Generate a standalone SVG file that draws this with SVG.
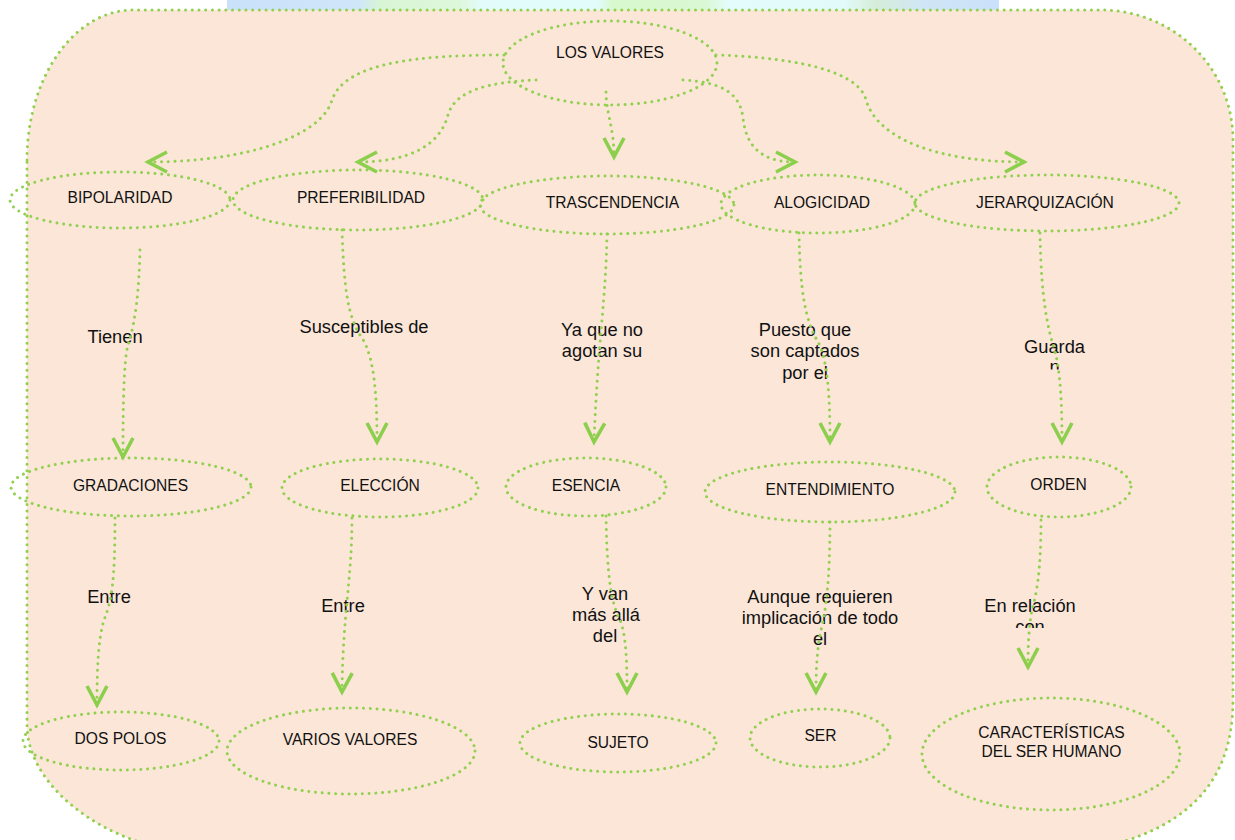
<svg xmlns="http://www.w3.org/2000/svg" width="1235" height="840" viewBox="0 0 1235 840">
<defs>
<linearGradient id="strip" x1="227" y1="0" x2="999" y2="0" gradientUnits="userSpaceOnUse">
<stop offset="0" stop-color="#C9E1FA"/>
<stop offset="0.17" stop-color="#CFE6FA"/>
<stop offset="0.2" stop-color="#D8F5D4"/>
<stop offset="0.3" stop-color="#DDF7DA"/>
<stop offset="0.33" stop-color="#E3FBFB"/>
<stop offset="0.48" stop-color="#E2FCFC"/>
<stop offset="0.5" stop-color="#D8F8CE"/>
<stop offset="0.62" stop-color="#DAF8D3"/>
<stop offset="0.65" stop-color="#E4FCFC"/>
<stop offset="0.8" stop-color="#E2FAFA"/>
<stop offset="0.84" stop-color="#D5EDD8"/>
<stop offset="0.9" stop-color="#D0E6F5"/>
<stop offset="1" stop-color="#C9E1FA"/>
</linearGradient>
<marker id="ah" markerUnits="userSpaceOnUse" markerWidth="40" markerHeight="40" viewBox="-30 -20 40 40" refX="0" refY="0" orient="auto" overflow="visible">
<polyline points="-19,-10 0,0 -19,10" fill="none" stroke="#8CCF4C" stroke-width="3.6" stroke-linejoin="miter"/>
</marker>
<clipPath id="clipGuarda"><rect x="990" y="320" width="130" height="49.5"/></clipPath>
<clipPath id="clipRel"><rect x="960" y="580" width="140" height="48"/></clipPath>
</defs>
<style>
.dot{fill:none;stroke:#92D050;stroke-width:3;stroke-dasharray:0.01 6.7;stroke-linecap:round}
.bg{fill:#FBE6D8}
.conn{marker-end:url(#ah)}
text{font-family:"Liberation Sans",Arial,sans-serif;fill:#111;text-anchor:middle}
.n{font-size:15.6px}
.l{font-size:18.3px}
</style>

<rect x="227" y="0" width="772" height="12" fill="url(#strip)"/>
<path id="background" class="bg dot" d="M 27 160 A 106 150 0 0 1 133 10 L 1100 10 A 132 130 0 0 1 1233 140 L 1233 700 C 1233 780 1190 830 1090 850 L 170 850 C 90 835 27 780 27 725 Z"/>

<g id="n-valores"><ellipse class="dot" cx="610" cy="63" rx="107" ry="42"/><text class="n" x="610" y="57.5">LOS VALORES</text></g>
<g id="n-bipolaridad"><ellipse class="dot" cx="120" cy="200" rx="110" ry="28"/><text class="n" x="120" y="202.5">BIPOLARIDAD</text></g>
<g id="n-preferibilidad"><ellipse class="dot" cx="358" cy="200" rx="125" ry="30"/><text class="n" x="361" y="202.5">PREFERIBILIDAD</text></g>
<g id="n-trascendencia"><ellipse class="dot" cx="607" cy="205" rx="127" ry="29"/><text class="n" x="612.5" y="207.5">TRASCENDENCIA</text></g>
<g id="n-alogicidad"><ellipse class="dot" cx="818" cy="204" rx="97" ry="29"/><text class="n" x="822" y="207.5">ALOGICIDAD</text></g>
<g id="n-jerarquizacion"><ellipse class="dot" cx="1047" cy="203" rx="132" ry="28"/><text class="n" x="1045" y="207.5">JERARQUIZACIÓN</text></g>

<g id="n-gradaciones"><ellipse class="dot" cx="131" cy="487" rx="120" ry="29"/><text class="n" x="130.5" y="490.5">GRADACIONES</text></g>
<g id="n-eleccion"><ellipse class="dot" cx="380" cy="488" rx="98" ry="29"/><text class="n" x="380" y="490.5">ELECCIÓN</text></g>
<g id="n-esencia"><ellipse class="dot" cx="586" cy="487" rx="80" ry="29"/><text class="n" x="586" y="490.5">ESENCIA</text></g>
<g id="n-entendimiento"><ellipse class="dot" cx="830" cy="492" rx="125" ry="30"/><text class="n" x="830" y="494.5">ENTENDIMIENTO</text></g>
<g id="n-orden"><ellipse class="dot" cx="1059" cy="487" rx="72" ry="30"/><text class="n" x="1058.5" y="489.5">ORDEN</text></g>

<g id="n-dospolos"><ellipse class="dot" cx="121" cy="741" rx="98" ry="29"/><text class="n" x="120.5" y="743.5">DOS POLOS</text></g>
<g id="n-varios"><ellipse class="dot" cx="351" cy="751" rx="124" ry="43"/><text class="n" x="350" y="744.5">VARIOS VALORES</text></g>
<g id="n-sujeto"><ellipse class="dot" cx="618" cy="743" rx="98" ry="29"/><text class="n" x="618" y="747.5">SUJETO</text></g>
<g id="n-ser"><ellipse class="dot" cx="820" cy="738" rx="70" ry="29"/><text class="n" x="820.5" y="740.5">SER</text></g>
<g id="n-caracteristicas"><ellipse class="dot" cx="1051" cy="754" rx="129" ry="56"/><text class="n" x="1051.5" y="737.5">CARACTERÍSTICAS</text><text class="n" x="1051.5" y="756.5">DEL SER HUMANO</text></g>

<g id="labels">
<text class="l" x="115" y="342.5">Tienen</text>
<text class="l" x="364" y="332.5">Susceptibles de</text>
<text class="l" x="602" y="335.5">Ya que no</text>
<text class="l" x="602" y="357">agotan su</text>
<text class="l" x="805" y="335.5">Puesto que</text>
<text class="l" x="805" y="357">son captados</text>
<text class="l" x="805" y="378.5">por el</text>
<g clip-path="url(#clipGuarda)"><text class="l" x="1054.5" y="352.5">Guarda</text><text class="l" x="1054.5" y="373">n</text></g>
<text class="l" x="109" y="602.5">Entre</text>
<text class="l" x="343" y="611.5">Entre</text>
<text class="l" x="605" y="599.5">Y van</text>
<text class="l" x="606" y="620.5">más allá</text>
<text class="l" x="605" y="641.5">del</text>
<text class="l" x="820" y="602.5">Aunque requieren</text>
<text class="l" x="820" y="623.5">implicación de todo</text>
<text class="l" x="820" y="644.5">el</text>
<g clip-path="url(#clipRel)"><text class="l" x="1030" y="611.5">En relación</text><text class="l" x="1030" y="632.5">con</text></g>
</g>

<g id="connectors">
<path class="dot conn" d="M 504 55 C 420 55 345 62 332 100 C 322 135 250 162 148 162"/>
<path class="dot conn" d="M 536 80 C 490 82 455 90 448 115 C 440 145 410 162 358 162"/>
<path class="dot conn" d="M 606 92 C 606 112 614 128 614 157"/>
<path class="dot conn" d="M 683 80 C 720 82 740 92 743 118 C 746 145 760 162 795 162"/>
<path class="dot conn" d="M 716 55 C 810 58 860 75 866 100 C 878 140 940 162 1024 162"/>
<path class="dot conn" d="M 140 250 C 139 290 136 320 128 345 C 124 360 123 400 123 457"/>
<path class="dot conn" d="M 342 230 C 344 290 348 318 362 338 C 375 358 377 400 377 442"/>
<path class="dot conn" d="M 607 234 C 606 300 598 340 594 442"/>
<path class="dot conn" d="M 799 233 C 800 290 805 320 818 342 C 828 360 830 400 830 442"/>
<path class="dot conn" d="M 1040 233 C 1041 300 1048 330 1056 355 C 1061 380 1062 410 1062 442"/>
<path class="dot conn" d="M 115 518 C 115 580 112 600 104 620 C 98 640 97 670 97 705"/>
<path class="dot conn" d="M 352 518 C 352 580 343 610 342 692"/>
<path class="dot conn" d="M 606 516 C 607 580 612 605 620 620 C 626 635 627 660 627 692"/>
<path class="dot conn" d="M 830 522 C 830 580 826 610 821 630 C 817 650 816 670 816 692"/>
<path class="dot conn" d="M 1041 520 C 1041 575 1036 595 1032 610 C 1029 625 1028 645 1028 667"/>
</g>
</svg>
